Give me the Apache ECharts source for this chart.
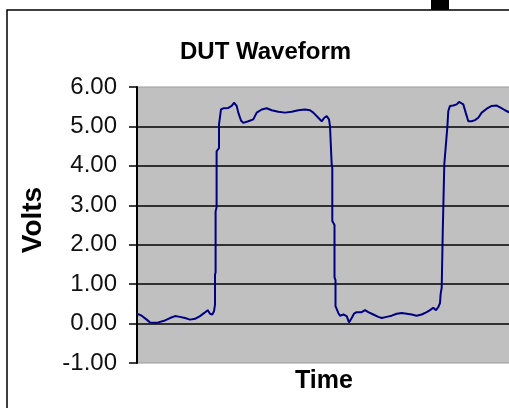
<!DOCTYPE html>
<html>
<head>
<meta charset="utf-8">
<script src="https://cdn.jsdelivr.net/npm/echarts@6/dist/echarts.min.js"></script>
<style>
html,body{margin:0;padding:0;overflow:hidden;background:#fff;}
#chart{width:600px;height:460px;}
</style>
</head>
<body>
<div id="chart"></div>
<script>
// sample time (arbitrary units) and measured voltage
let time = [
  0, 4.7, 9.7, 13, 16.3, 21.3, 28, 33, 38, 43, 48, 53, 58, 63, 67.3, 70.7, 73, 75.3, 77, 78,
  78, 78.6, 78.6, 79.6, 79.6, 82, 82, 83.5, 84,
  86.3, 91.3, 94.7, 97, 99.7, 101.3, 104, 106.3, 111.3, 116.3, 119.7, 124.7, 129.7, 134.7, 141.3,
  148, 154.7, 161.3, 168, 173, 176.3, 181.3, 184.7, 187.3, 189.7, 192, 193,
  194.7, 195.3, 195.3, 197.5, 197.5, 198.5, 198.5, 199.7,
  201.3, 203, 206.3, 209.7, 212, 214.7, 217, 219.7, 224.7, 228, 231.3, 236.3, 241.3, 244.7, 249.7,
  254.7, 259.7, 264.7, 269.7, 274.7, 279.7, 284.7, 289.7, 293, 296.3, 299, 301.3, 303,
  303.6, 304.7, 305.7, 307.3, 310.3, 311.3,
  313, 316.3, 319.7, 322, 324, 326.3, 328.7, 331.3, 334.7, 338, 341.3, 344.7, 349.7, 354.7, 359.7,
  364, 368, 372, 378
];
let volts = [
  0.25, 0.20, 0.10, 0.03, 0.02, 0.03, 0.08, 0.14, 0.19, 0.17, 0.14, 0.10, 0.12, 0.19, 0.27, 0.34, 0.25, 0.23, 0.31, 0.48,
  1.24, 1.30, 2.85, 2.95, 4.37, 4.45, 5.05, 5.10, 5.43,
  5.46, 5.47, 5.52, 5.60, 5.52, 5.35, 5.15, 5.09, 5.13, 5.18, 5.35, 5.43, 5.46, 5.41, 5.37,
  5.35, 5.37, 5.41, 5.43, 5.41, 5.35, 5.22, 5.13, 5.22, 5.26, 5.18, 5.01,
  4.03, 3.95, 2.60, 2.50, 1.17, 1.10, 0.44, 0.48,
  0.27, 0.20, 0.23, 0.19, 0.03, 0.14, 0.25, 0.29, 0.29, 0.34, 0.29, 0.23, 0.17, 0.14, 0.17,
  0.20, 0.25, 0.27, 0.25, 0.23, 0.20, 0.23, 0.29, 0.34, 0.40, 0.34, 0.42, 0.52,
  0.74, 0.91, 2.26, 4.04, 4.97, 5.39,
  5.52, 5.53, 5.56, 5.62, 5.66, 5.56, 5.35, 5.13, 5.13, 5.16, 5.22, 5.35, 5.45, 5.52, 5.53,
  5.47, 5.41, 5.36, 5.33
];
let yTicks = [-1, 0, 1, 2, 3, 4, 5, 6];

let points = time.map((t, i) => [t, volts[i]]);

let chart = echarts.init(document.getElementById('chart'));
let option = {
  animation: false,
  backgroundColor: '#fff',
  title: {
    text: 'DUT Waveform',
    left: 175,
    top: 35,
    textStyle: {
      fontFamily: 'Liberation Sans, Arial, sans-serif',
      fontSize: 24,
      fontWeight: 'bold',
      color: '#000'
    }
  },
  grid: {
    left: 137,
    top: 87,
    width: 420,
    height: 276,
    show: true,
    backgroundColor: '#c0c0c0',
    borderColor: '#999',
    borderWidth: 1
  },
  xAxis: {
    type: 'value',
    min: 0,
    max: 420,
    axisLine: { show: false },
    axisTick: { show: false },
    axisLabel: { show: false },
    splitLine: { show: false }
  },
  yAxis: {
    type: 'value',
    min: yTicks[0],
    max: yTicks[yTicks.length - 1],
    interval: 1,
    axisLine: { show: true, lineStyle: { color: '#000', width: 2 } },
    axisTick: { show: true, length: 8, lineStyle: { color: '#000', width: 1.5 } },
    axisLabel: {
      margin: 20,
      color: '#111',
      fontFamily: 'Liberation Sans, Arial, sans-serif',
      fontSize: 24,
      formatter: v => v.toFixed(2)
    },
    splitLine: {
      show: true,
      showMinLine: false,
      showMaxLine: false,
      lineStyle: { color: '#000', width: 1.5 }
    }
  },
  graphic: [
    {
      type: 'rect',
      shape: { x: 7, y: 10, width: 700, height: 500 },
      style: { fill: 'none', stroke: '#000', lineWidth: 1.5 },
      z: -1
    },
    {
      type: 'rect',
      shape: { x: 431, y: 0, width: 18, height: 10 },
      style: { fill: '#000' }
    },
    {
      type: 'text',
      x: 33,
      y: 220,
      rotation: Math.PI / 2,
      style: {
        text: 'Volts',
        fontFamily: 'Liberation Sans, Arial, sans-serif',
        fontSize: 28,
        fontWeight: 'bold',
        fill: '#000',
        align: 'center',
        verticalAlign: 'middle'
      }
    },
    {
      type: 'text',
      x: 324,
      y: 381,
      style: {
        text: 'Time',
        fontFamily: 'Liberation Sans, Arial, sans-serif',
        fontSize: 25,
        fontWeight: 'bold',
        fill: '#000',
        align: 'center',
        verticalAlign: 'middle'
      }
    }
  ],
  series: [{
    type: 'line',
    data: points,
    symbol: 'none',
    lineStyle: { color: '#000080', width: 2 }
  }]
};
chart.setOption(option);
window.addEventListener('resize', function () {
  chart.resize();
});
</script>
</body>
</html>
